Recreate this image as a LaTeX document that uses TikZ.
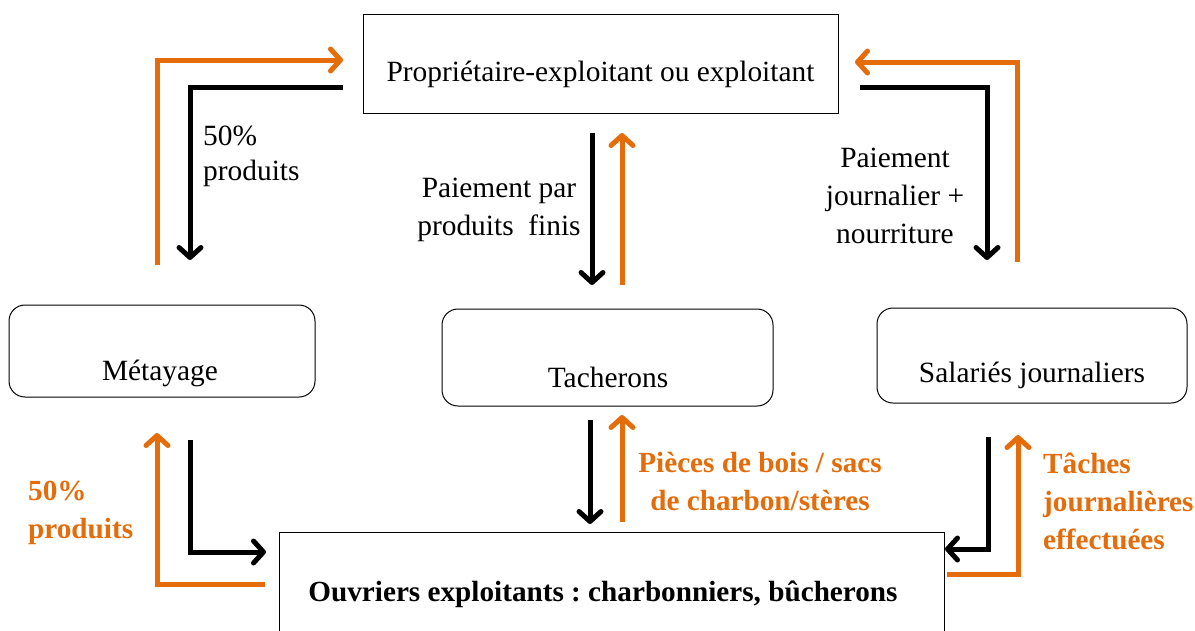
\documentclass[tikz,border=0pt]{standalone}
\usepackage{fontspec}
\setmainfont{Liberation Serif}
\usetikzlibrary{arrows.meta}
\definecolor{orng}{RGB}{228,108,10}
\begin{document}
\frenchspacing
\begin{tikzpicture}[x=1pt,y=-1pt,
  every node/.style={font=\fontsize{29.4}{38}\selectfont, inner sep=0pt},
  sqbox/.style={draw, line width=1pt},
  rbox/.style={draw, line width=1pt, rounded corners=16pt},
  blk/.style={line width=5pt, -{Straight Barb[length=10pt,width=22pt,round]}},
  org/.style={line width=5pt, orng, -{Straight Barb[length=10pt,width=22pt,round]}},
  olab/.style={orng, font=\fontsize{29.2}{38}\selectfont\bfseries}]
\useasboundingbox (0,0) rectangle (1195,630);
\clip (0,0) rectangle (1195,630);

% boxes
\node[sqbox, minimum width=475pt, minimum height=99pt] (top) at (600.5,63.5) {};
\node (toptxt) at (600.5,74) {Propriétaire-exploitant ou exploitant};
\node[rbox, minimum width=306pt, minimum height=92pt] (met) at (162,351) {};
\node (mettxt) at (160,373) {Métayage};
\node[rbox, minimum width=331pt, minimum height=97pt] (tach) at (607.5,357.5) {};
\node (tachtxt) at (608,377) {Tacherons};
\node[rbox, minimum width=310pt, minimum height=95pt] (sal) at (1032,355.5) {};
\node (saltxt) at (1032,375) {Salariés journaliers};
\node[sqbox, minimum width=665pt, minimum height=120pt] (ouv) at (611.5,592) {};
\node[font=\fontsize{29.2}{35}\selectfont\bfseries] (ouvtxt) at (603,594) {Ouvriers exploitants : charbonniers, bûcherons};

% coordinates
\coordinate (a1) at (157,265);
\coordinate (a2) at (343,60);
\coordinate (b1) at (343,87);
\coordinate (b2) at (190,260);
\coordinate (c1) at (1017,262);
\coordinate (c2) at (855,62);
\coordinate (d1) at (860,87);
\coordinate (d2) at (987,260);
\coordinate (e1) at (592,133);
\coordinate (e2) at (592,285);
\coordinate (f1) at (622,285);
\coordinate (f2) at (622,133);
\coordinate (g1) at (590,420);
\coordinate (g2) at (590,524);
\coordinate (h1) at (622,522);
\coordinate (h2) at (622,415);
\coordinate (i1) at (265,584);
\coordinate (i2) at (157,433);
\coordinate (j1) at (190,440);
\coordinate (j2) at (266,552);
\coordinate (k1) at (988,437);
\coordinate (k2) at (945,549);
\coordinate (l1) at (947,574);
\coordinate (l2) at (1018,435);

% connectors
\draw[org] (a1) |- (a2);
\draw[blk] (b1) -| (b2);
\draw[org] (c1) |- (c2);
\draw[blk] (d1) -| (d2);
\draw[blk] (e1) -- (e2);
\draw[org] (f1) -- (f2);
\draw[blk] (g1) -- (g2);
\draw[org] (h1) -- (h2);
\draw[org] (i1) -| (i2);
\draw[blk] (j1) |- (j2);
\draw[blk] (k1) |- (k2);
\draw[org] (l1) -| (l2);

% labels
\node[align=left, anchor=north west, font=\fontsize{29.4}{35}\selectfont] (lab1) at (203,126) {50\%\\produits};
\node[align=center] (lab2) at (895,196) {Paiement\\journalier +\\nourriture};
\node[align=center] (lab3) at (499,210) {Paiement par\\produits~~finis};
\node[olab, align=center] (lab4) at (760,481) {Pièces de bois / sacs\\de charbon/stères};
\node[olab, align=left, anchor=west] (lab5) at (28,513) {50\%\\produits};
\node[olab, align=left, anchor=west] (lab6) at (1043,501) {Tâches\\journalières\\effectuées};
\end{tikzpicture}
\end{document}
